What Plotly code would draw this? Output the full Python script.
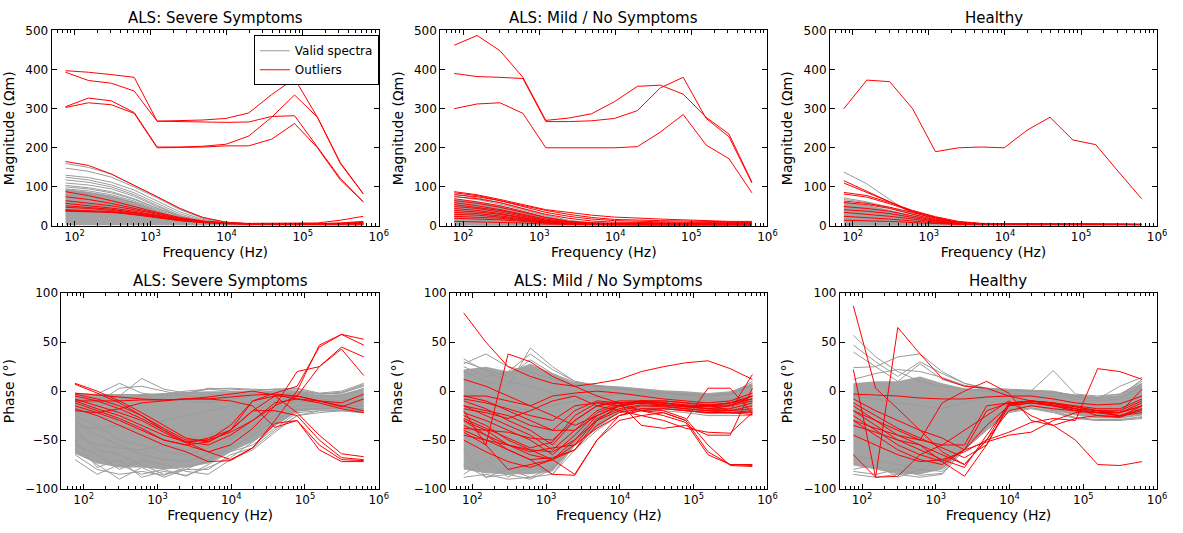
import plotly.graph_objects as go

# ---------------- data ----------------
freqs = [76.29, 152.59, 305.18, 610.35, 1220.7, 2441.4, 4882.8, 9765.6,
         19531.25, 39062.5, 78125, 156250, 312500, 625000]

panel_titles = ["ALS: Severe Symptoms", "ALS: Mild / No Symptoms", "Healthy"]
x_tick_vals = [1e2, 1e3, 1e4, 1e5, 1e6]
x_tick_text = ["10<sup>2</sup>", "10<sup>3</sup>", "10<sup>4</sup>", "10<sup>5</sup>", "10<sup>6</sup>"]

# ---- Severe: magnitude ----
sev_mag_band_lo = [2, 2, 2, 1, 1, 1, 1, 1, 1, 1, 1, 1, 1, 1]
sev_mag_band_hi = [95, 88, 78, 62, 40, 20, 9, 6, 5, 4, 4, 4, 4, 5]
sev_mag_gray = [
    [160, 150, 133, 105, 75, 45, 22, 10, 6, 5, 5, 5, 5, 6],
    [148, 140, 125, 100, 72, 42, 20, 9, 6, 5, 5, 5, 5, 6],
    [130, 124, 112, 92, 64, 36, 17, 8, 6, 5, 5, 5, 5, 6],
    [125, 118, 105, 85, 58, 31, 14, 7, 5, 4, 4, 4, 4, 5],
    [118, 112, 100, 80, 53, 27, 12, 7, 5, 4, 4, 4, 4, 5],
    [110, 105, 95, 76, 50, 26, 12, 7, 5, 4, 4, 4, 4, 5],
    [104, 98, 88, 70, 46, 24, 11, 7, 5, 4, 4, 4, 4, 5],
    [100, 95, 85, 68, 45, 25, 12, 7, 5, 4, 4, 4, 4, 5],
    [95, 90, 80, 64, 42, 22, 11, 6, 5, 4, 4, 4, 4, 5],
    [90, 85, 75, 60, 38, 20, 10, 6, 5, 4, 4, 4, 4, 5],
    [80, 75, 65, 50, 32, 17, 9, 6, 5, 4, 4, 4, 4, 4],
    [60, 55, 48, 38, 25, 14, 8, 5, 4, 4, 4, 4, 4, 4],
]
sev_mag_red = [
    [397, 393, 387, 380, 268, 269, 271, 275, 289, 336, 377, 278, 162, 83],
    [393, 372, 365, 345, 268, 267, 266, 265, 266, 280, 282, 203, 122, 62],
    [305, 327, 320, 290, 202, 202, 204, 209, 230, 278, 335, 278, 160, 82],
    [303, 315, 310, 288, 200, 201, 202, 205, 205, 222, 262, 200, 118, 62],
    [165, 155, 133, 105, 75, 45, 22, 10, 6, 6, 6, 6, 6, 7],
    [88, 78, 65, 50, 35, 22, 13, 8, 6, 6, 6, 6, 6, 8],
    [75, 68, 58, 45, 32, 20, 12, 8, 6, 6, 6, 7, 7, 10],
    [65, 58, 52, 42, 30, 19, 12, 8, 7, 7, 7, 8, 15, 25],
    [58, 52, 46, 38, 27, 17, 11, 7, 6, 6, 6, 6, 8, 12],
    [52, 48, 43, 35, 25, 16, 10, 7, 6, 6, 6, 6, 6, 8],
    [48, 45, 40, 33, 23, 15, 10, 7, 6, 6, 6, 6, 6, 6],
    [42, 40, 37, 30, 22, 14, 9, 6, 5, 5, 5, 5, 5, 6],
    [38, 37, 35, 29, 21, 14, 9, 6, 5, 5, 5, 5, 5, 5],
    [40, 38, 36, 33, 26, 18, 11, 7, 6, 6, 6, 6, 6, 10],
]

# ---- Mild: magnitude ----
mild_mag_band_lo = [1, 1, 1, 1, 1, 1, 1, 1, 1, 1, 1, 1, 1, 1]
mild_mag_band_hi = [70, 62, 52, 38, 22, 12, 8, 6, 5, 5, 5, 5, 5, 5]
mild_mag_gray = [
    [82, 72, 60, 45, 28, 15, 9, 6, 5, 5, 5, 5, 4, 4],
    [76, 68, 56, 42, 25, 13, 8, 6, 5, 5, 5, 4, 4, 4],
    [50, 45, 38, 28, 16, 9, 6, 4, 4, 4, 4, 4, 3, 3],
    [30, 27, 23, 17, 10, 6, 4, 3, 3, 3, 3, 3, 3, 3],
]
mild_mag_red = [
    [462, 487, 448, 380, 270, 276, 287, 318, 357, 360, 337, 278, 235, 112],
    [390, 382, 380, 377, 267, 267, 269, 275, 295, 353, 380, 275, 228, 110],
    [300, 312, 315, 288, 200, 200, 200, 200, 203, 240, 285, 207, 172, 85],
    [88, 80, 68, 55, 42, 35, 28, 23, 20, 18, 16, 14, 12, 12],
    [85, 78, 65, 52, 40, 30, 22, 17, 15, 14, 13, 12, 11, 10],
    [80, 75, 65, 50, 35, 25, 18, 14, 12, 11, 10, 10, 9, 9],
    [75, 70, 60, 45, 30, 20, 13, 10, 9, 8, 8, 8, 8, 8],
    [70, 62, 52, 38, 22, 12, 8, 7, 7, 7, 7, 7, 7, 7],
    [65, 58, 48, 35, 22, 12, 8, 6, 6, 6, 6, 6, 6, 6],
    [60, 52, 42, 30, 18, 10, 7, 6, 6, 6, 6, 6, 6, 6],
    [55, 48, 40, 28, 15, 9, 6, 5, 5, 5, 5, 5, 5, 5],
    [50, 45, 36, 25, 14, 8, 6, 5, 5, 5, 5, 5, 5, 5],
    [45, 40, 32, 22, 12, 7, 5, 5, 5, 5, 5, 5, 5, 5],
    [40, 36, 30, 20, 11, 7, 5, 4, 4, 4, 4, 4, 4, 4],
    [35, 32, 26, 18, 10, 6, 5, 4, 4, 4, 4, 4, 4, 4],
    [30, 28, 23, 16, 9, 6, 4, 4, 4, 4, 4, 4, 4, 4],
    [25, 23, 20, 14, 8, 5, 4, 4, 4, 4, 4, 4, 4, 4],
    [20, 18, 16, 12, 7, 5, 4, 3, 3, 3, 3, 3, 3, 3],
    [12, 11, 10, 8, 5, 4, 3, 3, 3, 3, 3, 3, 3, 3],
]

# ---- Healthy: magnitude ----
hea_mag_band_lo = [1, 1, 1, 1, 1, 1, 1, 1, 1, 1, 1, 1, 1, 1]
hea_mag_band_hi = [62, 54, 42, 28, 14, 7, 5, 5, 5, 5, 5, 5, 5, 5]
hea_mag_gray = [
    [138, 108, 68, 30, 12, 6, 5, 5, 5, 5, 5, 5, 5, 5],
    [72, 62, 48, 32, 15, 7, 5, 5, 5, 5, 5, 5, 5, 5],
    [68, 60, 46, 30, 14, 7, 5, 5, 5, 5, 5, 5, 5, 5],
    [50, 42, 32, 20, 10, 6, 5, 5, 5, 5, 5, 5, 5, 5],
]
hea_mag_red = [
    [300, 373, 369, 300, 190, 200, 202, 200, 245, 278, 220, 208, 138, 70],
    [116, 90, 62, 35, 18, 8, 6, 5, 5, 5, 5, 5, 4, 4],
    [110, 86, 60, 38, 22, 10, 6, 5, 5, 5, 5, 5, 4, 4],
    [86, 78, 60, 40, 24, 12, 7, 6, 6, 6, 6, 5, 5, 4],
    [82, 74, 57, 38, 22, 10, 6, 5, 5, 5, 5, 5, 4, 4],
    [64, 58, 48, 35, 20, 9, 6, 5, 5, 5, 5, 5, 4, 4],
    [60, 55, 45, 30, 16, 8, 6, 5, 5, 5, 5, 4, 4, 4],
    [50, 45, 38, 26, 14, 7, 5, 5, 5, 5, 5, 4, 4, 4],
    [42, 38, 32, 22, 12, 6, 5, 5, 5, 5, 4, 4, 4, 4],
    [35, 30, 25, 18, 10, 6, 5, 4, 4, 4, 4, 4, 4, 4],
    [25, 22, 18, 13, 8, 5, 4, 4, 4, 4, 4, 4, 4, 4],
    [15, 14, 12, 9, 6, 4, 4, 4, 4, 4, 4, 4, 4, 4],
]

# ---- Severe: phase ----
sev_ph_band_lo = [-64, -74, -78, -78, -80, -78, -74, -62, -52, -36, -21, -19, -19, -21]
sev_ph_band_hi = [-2, -3, -3, -3, -2, -1, 0, 0, 0, 0, 0, -4, -3, 3]
sev_ph_gray = [
    [-70, -85, -75, -85, -80, -87, -75, -62, -55, -38, -22, -20, -20, -22],
    [-60, -75, -90, -78, -88, -80, -80, -65, -58, -40, -25, -20, -20, -21],
    [-50, -78, -70, -88, -82, -86, -78, -68, -52, -35, -20, -18, -18, -20],
    [-55, -65, -80, -70, -75, -82, -85, -70, -60, -42, -25, -22, -20, -22],
    [-65, -80, -85, -82, -86, -78, -72, -58, -45, -30, -18, -18, -17, -18],
    [-40, -60, -65, -75, -85, -80, -70, -55, -40, -25, -15, -15, -15, -15],
    [-5, -3, 8, -2, -5, -3, 3, 2, 1, 2, 3, -2, 0, 8],
    [-10, -8, -5, 13, 2, -2, 2, 0, 0, 2, 2, -3, -1, 6],
    [-10, -12, 3, 5, 0, -5, -8, -5, -2, 0, 0, -3, -2, 5],
    [-8, -10, -8, -5, -3, 0, 2, 3, 2, 1, 0, -3, -2, 7],
    [-20, -15, -10, -5, -8, -10, -12, -8, -5, -3, -2, -5, -5, 3],
    [-35, -38, -35, -40, -30, -25, -20, -15, -10, -5, -3, -8, -10, -5],
    [-45, -55, -58, -60, -55, -50, -45, -35, -22, -10, -5, -10, -12, -8],
    [-25, -35, -50, -55, -62, -65, -58, -48, -35, -18, -8, -10, -12, -10],
    [-30, -45, -55, -65, -70, -72, -65, -50, -30, -12, -8, -12, -15, -15],
    [-15, -25, -35, -45, -55, -60, -55, -45, -35, -20, -10, -12, -14, -12],
]
sev_ph_red = [
    [8, 0, -10, -22, -35, -48, -52, -40, -20, -5, -5, -10, -15, -20],
    [7, -2, -12, -25, -40, -52, -55, -45, -30, -12, -8, -12, -18, -22],
    [-2, -4, -6, -8, -9, -8, -6, -3, 0, -4, -8, -10, -12, -3],
    [-10, -10, -10, -9, -9, -8, -8, -6, -4, -3, -5, -10, -16, -8],
    [-3, -8, -15, -25, -38, -50, -50, -42, -30, -15, -5, 25, 45, 35],
    [-5, -10, -18, -28, -40, -52, -62, -70, -58, -30, 0, 47, 58, 53],
    [-8, -15, -22, -30, -42, -53, -48, -40, -10, -2, 5, 45, 58, 47],
    [-12, -20, -28, -38, -50, -55, -62, -55, -38, -15, 20, 25, 43, 16],
    [-10, -18, -25, -35, -45, -52, -50, -35, -10, -5, -22, -45, -64, -67],
    [-15, -22, -30, -40, -50, -55, -52, -40, -20, -20, -25, -50, -68, -70],
    [-18, -25, -35, -45, -55, -62, -72, -71, -58, -33, -30, -55, -70, -71],
    [-20, -22, -18, -12, -10, -8, -8, -10, -15, -37, -30, -60, -72, -72],
]

# ---- Mild: phase ----
mild_ph_band_lo = [-80, -84, -85, -85, -82, -56, -38, -22, -18, -18, -20, -22, -22, -22]
mild_ph_band_hi = [22, 25, 20, 28, 18, 8, 6, 5, 3, 1, 0, -2, 0, 8]
mild_ph_gray = [
    [-88, -85, -90, -88, -85, -60, -40, -25, -20, -20, -22, -25, -25, -25],
    [33, 20, 10, 5, -2, -5, -5, -3, -2, -3, -5, -8, -8, -2],
    [28, 38, 25, 20, 12, 8, 5, 2, 0, -2, -3, -5, -3, 8],
    [20, 10, 5, 44, 25, 10, 5, 2, 0, -2, -3, -5, -3, 10],
    [25, 15, 20, 38, 22, 10, 6, 3, 1, -1, -3, -4, -2, 5],
    [30, 22, 15, 32, 18, 9, 5, 2, 0, -2, -4, -6, -4, 6],
    [-60, -88, -85, -90, -80, -50, -30, -20, -15, -15, -18, -20, -20, -18],
    [-85, -70, -88, -75, -85, -55, -35, -22, -18, -17, -20, -22, -22, -20],
    [-75, -88, -80, -88, -78, -52, -34, -21, -17, -17, -20, -23, -23, -21],
    [-40, -50, -60, -65, -60, -40, -25, -15, -10, -12, -15, -18, -15, -10],
    [0, -10, -15, -20, -15, -10, -5, -3, -3, -5, -8, -10, -10, -5],
]
mild_ph_red = [
    [80, 50, 25, 15, 8, 5, 8, 12, 20, 25, 29, 31, 23, 12],
    [12, 5, -5, -15, -25, -35, -25, -15, -12, -12, -15, -18, -15, -5],
    [-20, -55, 38, 30, 15, 5, -5, -12, -12, -12, -15, -15, -12, -5],
    [-5, -10, -20, -30, -40, -40, -25, -15, -10, -10, -12, -14, -12, -8],
    [-10, -18, -30, -40, -55, -30, -15, -10, -10, -12, -14, -15, -12, -5],
    [-15, -25, -35, -45, -60, -40, -20, -12, -10, -12, -15, -16, -15, -10],
    [-22, -30, -40, -50, -65, -45, -22, -14, -12, -14, -16, -18, -18, -12],
    [-25, -35, -50, -60, -70, -50, -25, -15, -12, -14, -16, -18, -20, -15],
    [-30, -40, -55, -65, -70, -55, -28, -18, -14, -15, -18, -20, -20, -18],
    [-40, -50, -60, -70, -68, -60, -30, -20, -15, -16, -18, -20, -22, -20],
    [-42, -55, -80, -75, -70, -85, -50, -25, -20, -18, -20, -22, -22, -22],
    [-50, -62, -72, -78, -70, -60, -35, -22, -18, -18, -20, -22, -22, -24],
    [-30, -45, -60, -70, -85, -86, -50, -30, -25, -22, -30, -62, -75, -76],
    [-35, -45, -55, -62, -58, -55, -38, -25, -18, -20, -28, -55, -76, -77],
    [-38, -40, -42, -48, -50, -30, -15, -12, -20, -25, -32, -65, -75, -75],
    [-15, -20, -25, -35, -40, -20, -10, -12, -35, -38, -35, -45, -45, 3],
    [-18, -22, -28, -20, -10, -5, -15, -20, -25, -30, -38, -42, -43, -22],
    [-8, -12, -18, -25, -30, -15, -12, -15, -20, -22, -30, 3, 3, -23],
    [-45, -50, -55, -60, -62, -50, -30, -15, -10, -10, -12, -14, -20, 17],
    [-5, -5, -10, -15, -5, -2, 0, -2, -5, -8, -10, -12, -10, -2],
    [-28, -38, -48, -58, -52, -25, -12, -12, -12, -14, -16, -15, -14, -8],
]

# ---- Healthy: phase ----
hea_ph_band_lo = [-76, -80, -85, -85, -80, -60, -40, -20, -16, -20, -25, -28, -28, -25]
hea_ph_band_hi = [8, 10, 10, 15, 8, 3, 2, 1, 1, 0, -4, -6, -4, 8]
hea_ph_gray = [
    [57, 35, 20, 10, 5, 2, 0, -2, -3, -5, -8, -10, -8, 5],
    [47, 30, 15, 30, 18, 8, 3, 2, 1, 0, -5, -8, -5, 12],
    [40, 25, 35, 38, 20, 8, 2, 0, 0, -2, -6, -8, 5, 14],
    [24, 25, 10, 28, 12, 5, 2, 1, 0, 21, -3, -5, -3, 8],
    [12, 18, 22, 20, 14, 6, 2, 1, 0, -1, -4, -6, -3, 10],
    [-85, -88, -85, -88, -85, -60, -40, -22, -18, -22, -28, -30, -30, -28],
    [-80, -75, -88, -80, -82, -55, -35, -20, -17, -20, -27, -30, -29, -27],
    [-82, -85, -80, -86, -84, -58, -38, -21, -17, -21, -27, -29, -29, -26],
    [-65, -70, -75, -80, -70, -50, -30, -18, -15, -18, -22, -25, -25, -20],
    [-5, -8, -12, -15, -18, -12, -6, -4, -5, -8, -12, -15, -13, -5],
]
hea_ph_red = [
    [87, 3, -18, -40, -62, -75, -50, -20, -15, -18, -20, -22, -22, -15],
    [22, -88, 65, 38, 13, 5, 3, -5, -10, -15, -20, -22, -25, -18],
    [-3, -4, -5, -7, -8, -8, -6, -5, -5, -8, -12, -14, -13, -5],
    [-8, -20, -30, -40, -48, -60, -35, -15, -12, -15, -20, -22, -22, -12],
    [-12, -25, -38, -48, -58, -68, -55, -13, -10, -12, -18, -20, -20, -10],
    [-15, -30, -45, -55, -65, -75, -50, -12, -10, -12, -15, -18, -18, -8],
    [-20, -35, -50, -60, -70, -78, -45, -14, -10, -13, -16, -20, -22, -15],
    [-25, -40, -55, -65, -72, -87, -55, -15, -12, -14, -18, -22, -25, -20],
    [-30, -45, -60, -70, -75, -60, -52, -45, -42, -30, -22, -20, -25, -22],
    [-45, -55, -65, -72, -70, -62, -50, -42, -32, -28, -30, 23, 20, 12],
    [-65, -88, -87, -65, -55, -40, -25, -10, -25, -35, -50, -75, -76, -72],
    [-30, -38, -45, -50, -12, 0, 10, -2, -30, -35, -28, -25, -26, -15],
    [-20, -30, -40, -50, -55, -55, -15, -12, -10, -12, -16, -20, -22, 2],
    [-35, -42, -50, -55, -72, -60, -20, -12, -12, -15, -18, -25, -27, -18],
]

# ---------------- figure ----------------
W, H = 1183, 533
GRAY = "rgb(155,155,155)"
BAND = "rgba(155,155,155,0.92)"
RED = "rgb(255,0,0)"
FONT = "DejaVu Sans"

panels = [
    (sev_mag_band_lo, sev_mag_band_hi, sev_mag_gray, sev_mag_red),
    (mild_mag_band_lo, mild_mag_band_hi, mild_mag_gray, mild_mag_red),
    (hea_mag_band_lo, hea_mag_band_hi, hea_mag_gray, hea_mag_red),
    (sev_ph_band_lo, sev_ph_band_hi, sev_ph_gray, sev_ph_red),
    (mild_ph_band_lo, mild_ph_band_hi, mild_ph_gray, mild_ph_red),
    (hea_ph_band_lo, hea_ph_band_hi, hea_ph_gray, hea_ph_red),
]

# axes pixel boxes (left, right, top, bottom)
boxes = [
    (52, 382, 24, 225), (444, 774, 24, 225), (837, 1167, 24, 225),
    (62, 382, 294, 495), (454, 774, 294, 495), (847, 1167, 294, 495),
]

fig = go.Figure()
minor_vals = [m * 10 ** e for e in range(1, 6) for m in range(2, 10) if 50 <= m * 10 ** e <= 1e6]

legend_done_gray = False
legend_done_red = False
for k, (lo, hi, grays, reds) in enumerate(panels):
    ax = "" if k == 0 else str(k + 1)
    xref, yref = "x" + ax, "y" + ax
    fig.add_trace(go.Scatter(
        x=freqs + freqs[::-1], y=lo + hi[::-1], fill="toself", fillcolor=BAND,
        line=dict(width=0), mode="lines", hoverinfo="skip", showlegend=False,
        xaxis=xref, yaxis=yref))
    for g in grays:
        fig.add_trace(go.Scatter(
            x=freqs, y=g, mode="lines", line=dict(color=GRAY, width=1),
            name="Valid spectra", legendgroup="valid",
            showlegend=not legend_done_gray, xaxis=xref, yaxis=yref))
        legend_done_gray = True
    for r in reds:
        fig.add_trace(go.Scatter(
            x=freqs, y=r, mode="lines", line=dict(color=RED, width=1),
            name="Outliers", legendgroup="out",
            showlegend=not legend_done_red, xaxis=xref, yaxis=yref))
        legend_done_red = True

layout = dict(
    width=W, height=H, margin=dict(l=0, r=0, t=0, b=0),
    paper_bgcolor="white", plot_bgcolor="white",
    font=dict(family=FONT, size=12, color="black"),
    legend=dict(x=256 / W, y=1 - 29 / H, xanchor="left", yanchor="top",
                bgcolor="white", bordercolor="black", borderwidth=1,
                font=dict(size=12, family=FONT), tracegroupgap=0,
                itemwidth=30),
    annotations=[],
)

for k in range(6):
    l, r, t, b = boxes[k]
    sfx = "" if k == 0 else str(k + 1)
    is_mag = k < 3
    layout["xaxis" + sfx] = dict(
        type="log", range=[1.699, 6], domain=[l / W, r / W],
        anchor="y" + sfx, tickvals=x_tick_vals, ticktext=x_tick_text,
        ticks="inside", ticklen=5, tickwidth=1, tickcolor="black",
        showline=True, linecolor="black", linewidth=1, mirror="allticks",
        showgrid=False, zeroline=False,
        minor=dict(tickvals=minor_vals, ticks="inside", ticklen=3,
                   tickcolor="black", showgrid=False),
        title=dict(text="Frequency (Hz)", font=dict(size=14), standoff=3),
        tickfont=dict(size=12),
    )
    layout["yaxis" + sfx] = dict(
        range=[0, 500] if is_mag else [-100, 100],
        tickvals=[0, 100, 200, 300, 400, 500] if is_mag else [-100, -50, 0, 50, 100],
        domain=[1 - b / H, 1 - t / H], anchor="x" + sfx,
        ticks="inside", ticklen=5, tickwidth=1, tickcolor="black",
        showline=True, linecolor="black", linewidth=1, mirror="allticks",
        showgrid=False, zeroline=False,
        title=dict(text="Magnitude (Ωm)" if is_mag else "Phase (°)",
                   font=dict(size=14), standoff=7),
        tickfont=dict(size=12),
    )
    layout["annotations"].append(dict(
        text=panel_titles[k % 3], xref="paper", yref="paper",
        x=(l + r) / 2 / W, y=1 - (t - 1) / H, xanchor="center", yanchor="bottom",
        showarrow=False, font=dict(size=15, family=FONT)))

fig.update_layout(**layout)
fig.write_html("out.html")
